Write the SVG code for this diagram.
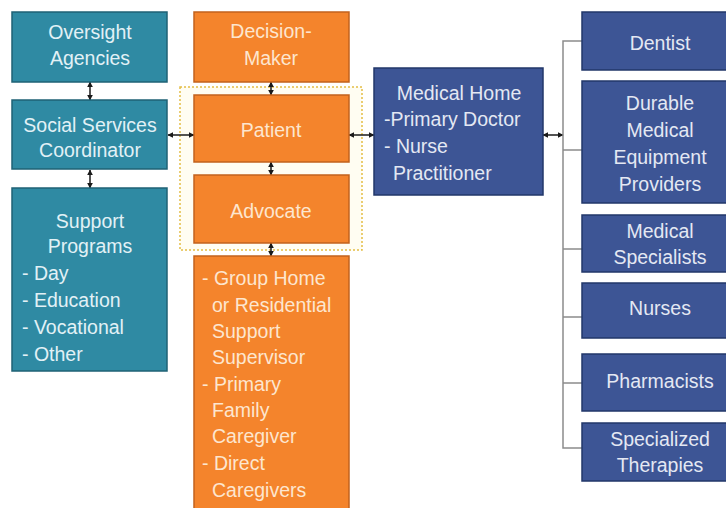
<svg xmlns="http://www.w3.org/2000/svg" width="726" height="508" viewBox="0 0 726 508">
<defs>
<style>
.teal{fill:#2f8aa3;stroke:#1f6275;stroke-width:1.5}
.orange{fill:#f4842c;stroke:#c2621c;stroke-width:1.5}
.blue{fill:#3d5595;stroke:#22376a;stroke-width:1.5}
text{font-family:"Liberation Sans",Arial,sans-serif;font-size:19.5px}
.tt{fill:#e2f1f6}
.ot{fill:#fde6cf}
.bt{fill:#e4e8f3}
.c{text-anchor:middle}
.arr{stroke:#1a1a1a;stroke-width:1.5;fill:none;marker-start:url(#ah);marker-end:url(#ah)}
.br{stroke:#8c8c8c;stroke-width:1.5;fill:none}
</style>
<marker id="ah" viewBox="0 0 10 10" refX="9" refY="5" markerWidth="6" markerHeight="6" orient="auto-start-reverse" markerUnits="userSpaceOnUse">
<path d="M0,0 L10,5 L0,10 z" fill="#1a1a1a"/>
</marker>
</defs>
<rect width="726" height="508" fill="#ffffff"/>

<g id="connectors">
<rect x="180" y="87" width="182" height="163" fill="#fffdf2" stroke="#e3bd45" stroke-width="1.5" stroke-dasharray="2,2"/>
<line class="arr" x1="90" y1="82" x2="90" y2="100"/>
<line class="arr" x1="90" y1="170" x2="90" y2="188"/>
<line class="arr" x1="168" y1="135" x2="194" y2="135"/>
<line class="arr" x1="271" y1="82" x2="271" y2="95"/>
<line class="arr" x1="271" y1="162" x2="271" y2="175"/>
<line class="arr" x1="271" y1="243" x2="271" y2="256"/>
<line class="arr" x1="349" y1="135" x2="374" y2="135"/>
<line class="arr" x1="543" y1="135" x2="563" y2="135"/>
<path class="br" d="M582,41 H563 V448 H582 M563,150 H582 M563,249 H582 M563,317 H582 M563,383 H582"/>
</g>

<g id="oversight">
<rect class="teal" x="12" y="12" width="155" height="70"/>
<text class="tt c" x="90" y="39">Oversight</text>
<text class="tt c" x="90" y="65">Agencies</text>
</g>
<g id="social">
<rect class="teal" x="12" y="100" width="155" height="69"/>
<text class="tt c" x="90" y="132">Social Services</text>
<text class="tt c" x="90" y="157">Coordinator</text>
</g>
<g id="support">
<rect class="teal" x="12" y="188" width="155" height="183"/>
<text class="tt c" x="90" y="228">Support</text>
<text class="tt c" x="90" y="253">Programs</text>
<text class="tt" x="22" y="280">- Day</text>
<text class="tt" x="22" y="307">- Education</text>
<text class="tt" x="22" y="334">- Vocational</text>
<text class="tt" x="22" y="361">- Other</text>
</g>

<g id="decision">
<rect class="orange" x="194" y="12" width="155" height="70"/>
<text class="ot c" x="271" y="38">Decision-</text>
<text class="ot c" x="271" y="65">Maker</text>
</g>
<g id="patient">
<rect class="orange" x="194" y="95" width="155" height="67"/>
<text class="ot c" x="271" y="137">Patient</text>
</g>
<g id="advocate">
<rect class="orange" x="194" y="175" width="155" height="68"/>
<text class="ot c" x="271" y="218">Advocate</text>
</g>
<g id="caregivers">
<rect class="orange" x="194" y="256" width="155" height="260"/>
<text class="ot" x="202" y="285">- Group Home</text>
<text class="ot" x="212" y="312">or Residential</text>
<text class="ot" x="212" y="338">Support</text>
<text class="ot" x="212" y="364">Supervisor</text>
<text class="ot" x="202" y="391">- Primary</text>
<text class="ot" x="212" y="417">Family</text>
<text class="ot" x="212" y="443">Caregiver</text>
<text class="ot" x="202" y="470">- Direct</text>
<text class="ot" x="212" y="497">Caregivers</text>
</g>

<g id="medicalhome">
<rect class="blue" x="374" y="68" width="169" height="127"/>
<text class="bt c" x="459" y="100">Medical Home</text>
<text class="bt" x="384" y="126">-Primary Doctor</text>
<text class="bt" x="384" y="153">- Nurse</text>
<text class="bt" x="393" y="180">Practitioner</text>
</g>

<g id="dentist">
<rect class="blue" x="582" y="12" width="150" height="58"/>
<text class="bt c" x="660" y="50">Dentist</text>
</g>
<g id="durable">
<rect class="blue" x="582" y="81" width="150" height="122"/>
<text class="bt c" x="660" y="110">Durable</text>
<text class="bt c" x="660" y="137">Medical</text>
<text class="bt c" x="660" y="164">Equipment</text>
<text class="bt c" x="660" y="191">Providers</text>
</g>
<g id="specialists">
<rect class="blue" x="582" y="215" width="150" height="57"/>
<text class="bt c" x="660" y="238">Medical</text>
<text class="bt c" x="660" y="264">Specialists</text>
</g>
<g id="nurses">
<rect class="blue" x="582" y="283" width="150" height="55"/>
<text class="bt c" x="660" y="315">Nurses</text>
</g>
<g id="pharmacists">
<rect class="blue" x="582" y="354" width="150" height="57"/>
<text class="bt c" x="660" y="388">Pharmacists</text>
</g>
<g id="therapies">
<rect class="blue" x="582" y="423" width="150" height="58"/>
<text class="bt c" x="660" y="446">Specialized</text>
<text class="bt c" x="660" y="472">Therapies</text>
</g>
</svg>
